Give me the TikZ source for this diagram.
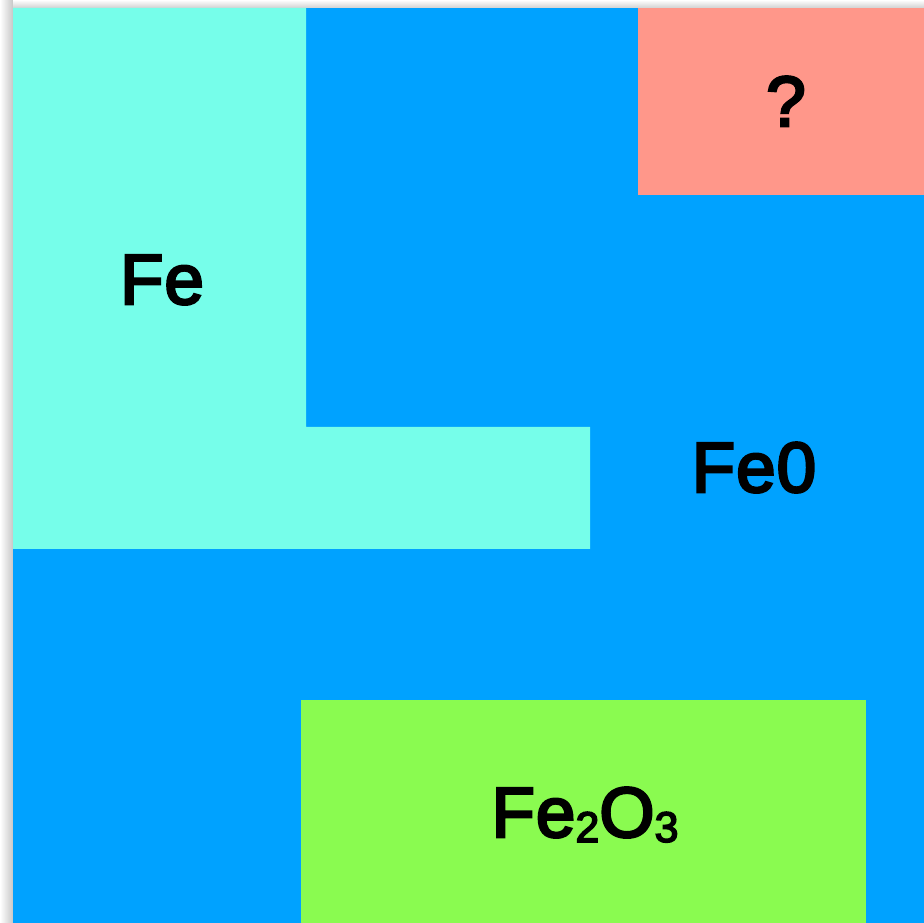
\documentclass[tikz,border=0pt]{standalone}
\usepackage{fontspec}
\setmainfont{Liberation Sans}
\newfontfamily\lblfont[FakeBold=3.6,LetterSpace=1.5]{Liberation Sans}
\definecolor{cfe}{HTML}{76FEEA}
\definecolor{cfeo}{HTML}{00A2FF}
\definecolor{cq}{HTML}{FF978A}
\definecolor{cfe2}{HTML}{8AFB50}
\tikzset{lbl/.style={inner sep=0pt,anchor=base,font=\lblfont\fontsize{71}{71}\selectfont}}
\begin{document}
\begin{tikzpicture}[x=1pt,y=1pt]
\useasboundingbox (0,0) rectangle (924,923);
\fill[white] (0,0) rectangle (924,923);
\shade[left color=white,right color=black!22] (0,0) rectangle (13,923);
\shade[top color=white,bottom color=black!18] (13,915) rectangle (924,923);
% FeO background
\fill[cfeo] (13,0) rectangle (924,915);
% Fe region
\fill[cfe] (13,915) -- (306,915) -- (306,496) -- (590,496) -- (590,374) -- (13,374) -- cycle;
% ? region
\fill[cq] (638,915) rectangle (924,728);
% Fe2O3 region
\fill[cfe2] (301,223) rectangle (866,0);
\node[lbl] (fe) at (162,619) {Fe};
\node[lbl] (feo) at (754,431) {Fe0};
\node[lbl] (q) at (786,797) {?};
\node[lbl] (fe2o3) at (585,86) {Fe\raisebox{-5pt}{\fontsize{43}{43}\selectfont 2}O\raisebox{-5pt}{\fontsize{43}{43}\selectfont 3}};
\end{tikzpicture}
\end{document}
